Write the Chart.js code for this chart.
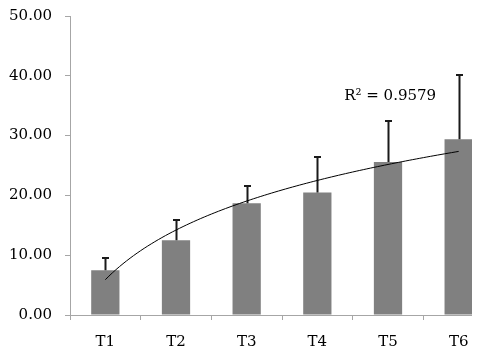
<!DOCTYPE html>
<html>
<head>
<meta charset="utf-8">
<script src="https://cdn.jsdelivr.net/npm/chart.js@4/dist/chart.umd.min.js"></script>
<style>
  html, body { margin: 0; padding: 0; background: #fff; }
  #wrap { width: 472px; height: 358px; overflow: hidden; position: relative; }
  #c { position: absolute; left: 0; top: -6px; }
</style>
</head>
<body>
<div id="wrap"><canvas id="c" width="510" height="364"></canvas></div>
<script>
const categories = ['T1', 'T2', 'T3', 'T4', 'T5', 'T6'];
const means = [7.5, 12.5, 18.7, 20.5, 25.6, 29.4];
const errorsUp = [2.0, 3.4, 2.9, 6.0, 6.8, 10.8];
const yTicks = [0, 10, 20, 30, 40, 50];
const r2Label = 'R² = 0.9579';

const FONT = '"DejaVu Serif", serif';

// logarithmic trendline fitted to the bar values (y = a ln x + b)
function logFit(vals) {
  const xs = vals.map((_, i) => Math.log(i + 1));
  const mx = xs.reduce((s, v) => s + v, 0) / xs.length;
  const my = vals.reduce((s, v) => s + v, 0) / vals.length;
  let sxy = 0, sxx = 0;
  xs.forEach((x, i) => { sxy += (x - mx) * (vals[i] - my); sxx += (x - mx) * (x - mx); });
  const a = sxy / sxx;
  return { a, b: my - a * mx };
}
const fit = logFit(means);

const extras = {
  id: 'extras',
  afterDatasetsDraw(chart) {
    const ctx = chart.ctx;
    const xs = chart.scales.x, ys = chart.scales.y;
    const p0 = xs.getPixelForValue(0), p1 = xs.getPixelForValue(1);
    ctx.save();
    // error bars (upper only)
    ctx.strokeStyle = '#1a1a1a';
    ctx.lineWidth = 2;
    means.forEach((m, i) => {
      const px = Math.round(xs.getPixelForValue(i)) + 0.5;
      const yb = ys.getPixelForValue(m);
      const yt = Math.round(ys.getPixelForValue(m + errorsUp[i]));
      ctx.beginPath();
      ctx.moveTo(px, yb);
      ctx.lineTo(px, yt);
      ctx.moveTo(px - 3.5, yt);
      ctx.lineTo(px + 3.5, yt);
      ctx.stroke();
    });
    // trendline
    ctx.strokeStyle = '#000';
    ctx.lineWidth = 1;
    ctx.beginPath();
    const n = categories.length;
    for (let k = 0; k <= 100; k++) {
      const t = 1 + (n - 1) * k / 100;
      const px = p0 + (t - 1) * (p1 - p0);
      const py = ys.getPixelForValue(fit.a * Math.log(t) + fit.b);
      if (k === 0) ctx.moveTo(px, py); else ctx.lineTo(px, py);
    }
    ctx.stroke();
    // R² label
    ctx.fillStyle = '#000';
    ctx.font = '15px ' + FONT;
    ctx.textAlign = 'center';
    ctx.textBaseline = 'middle';
    ctx.fillText(r2Label, p0 + 4.03 * (p1 - p0), ys.getPixelForValue(36.6));
    ctx.restore();
  }
};

new Chart(document.getElementById('c'), {
  type: 'bar',
  data: {
    labels: categories,
    datasets: [{
      data: means,
      backgroundColor: '#808080',
      borderWidth: 0,
      categoryPercentage: 1,
      barPercentage: 0.4
    }]
  },
  options: {
    responsive: false,
    animation: false,
    devicePixelRatio: 1,
    layout: { padding: { left: 0, top: 10, right: 16, bottom: 0 } },
    plugins: { legend: { display: false }, tooltip: { enabled: false } },
    scales: {
      x: {
        grid: { drawOnChartArea: false, drawTicks: true, tickLength: 5, color: '#a6a6a6', offset: true },
        border: { color: '#a6a6a6', width: 1 },
        ticks: { color: '#000', font: { family: FONT, size: 15 }, padding: 13 },
        afterFit(s) { s.height = 43; }
      },
      y: {
        min: 0, max: 50,
        afterBuildTicks(s) { s.ticks = yTicks.map(v => ({ value: v })); },
        grid: { drawOnChartArea: false, drawTicks: true, tickLength: 5, color: '#a6a6a6' },
        border: { color: '#a6a6a6', width: 1 },
        ticks: { color: '#000', font: { family: FONT, size: 15 }, padding: 13,
                 callback: v => Number(v).toFixed(2) },
        afterFit(s) { s.width = 70; }
      }
    }
  },
  plugins: [extras]
});
</script>
</body>
</html>
